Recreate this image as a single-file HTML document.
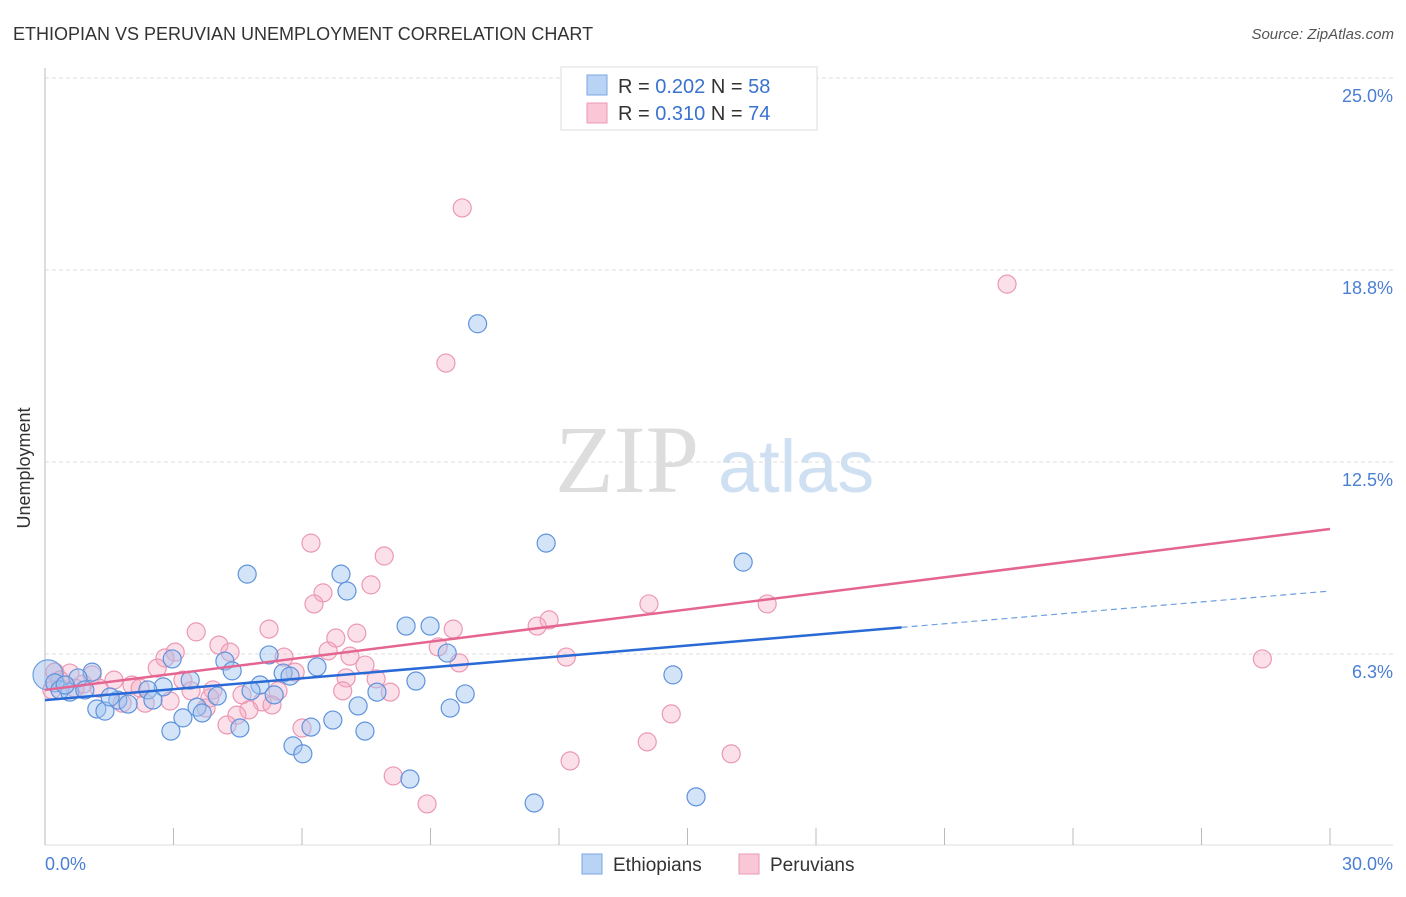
<!DOCTYPE html>
<html><head><meta charset="utf-8"><style>
body{margin:0;background:#fff;font-family:"Liberation Sans",sans-serif;}
</style></head><body>
<svg width="1406" height="892" xmlns="http://www.w3.org/2000/svg" style="font-family:'Liberation Sans',sans-serif">
<text x="13" y="40" font-size="18" fill="#333">ETHIOPIAN VS PERUVIAN UNEMPLOYMENT CORRELATION CHART</text>
<text x="1394" y="39" font-size="15" fill="#555" font-style="italic" text-anchor="end">Source: ZipAtlas.com</text>
<g>
<text x="555" y="492" font-size="96" font-family="'Liberation Serif',serif" fill="#ddd">ZIP</text>
<text x="718" y="492" font-size="74" fill="#cfe0f3">atlas</text>
</g>
<g id="grid"></g>
<line x1="45" y1="68" x2="45" y2="845" stroke="#bbb"/>
<line x1="45" y1="845" x2="1393" y2="845" stroke="#ddd"/>
<g id="xticks"></g>
<text x="18" y="456" font-size="18" fill="#333" transform="rotate(-90 30 456)" text-anchor="middle">Unemployment</text>
<text x="45" y="870" font-size="18" fill="#4a7fd4">0.0%</text>
<text x="1393" y="870" font-size="18" fill="#4a7fd4" text-anchor="end">30.0%</text>
<g id="pts"></g>
<g id="lines"></g>
<g>
<rect x="561" y="67" width="256" height="63" fill="#fff" stroke="#ddd"/>
<rect x="587" y="75" width="20" height="20" fill="#b9d3f5" stroke="#7aa6e4"/>
<rect x="587" y="103" width="20" height="20" fill="#f9c7d6" stroke="#ec9ab5"/>
<text x="618" y="93" font-size="20" fill="#333">R = <tspan fill="#3a72d0">0.202</tspan>   N = <tspan fill="#3a72d0">58</tspan></text>
<text x="618" y="120" font-size="20" fill="#333">R =  <tspan fill="#3a72d0">0.310</tspan>   N = <tspan fill="#3a72d0">74</tspan></text>
</g>
<g>
<rect x="582" y="854" width="20" height="20" fill="#b9d3f5" stroke="#7aa6e4"/>
<text x="613" y="871" font-size="19" fill="#333">Ethiopians</text>
<rect x="739" y="854" width="20" height="20" fill="#f9c7d6" stroke="#ec9ab5"/>
<text x="770" y="871" font-size="19" fill="#333">Peruvians</text>
</g>
</svg>
<script>
const yTicks=[6.25,12.5,18.75,25];
const yTickLabels=["6.3%","12.5%","18.8%","25.0%"];
const xTicks=[0,3,6,9,12,15,18,21,24,27,30];
const ethX=[10.1,11.7,16.3,4.72,6.91,7.05,8.43,8.99,9.39,2.97,4.20,5.23,6.35,1.10,4.37,5.56,5.72,14.66,0.77,3.39,5.02,8.66,2.76,0.23,0.35,0.58,0.93,2.40,4.02,4.81,5.35,7.75,9.81,1.70,1.94,2.52,1.21,1.40,3.55,7.31,9.46,3.67,3.22,6.72,6.21,4.55,2.94,7.47,5.79,6.02,8.52,11.42,15.20,0.47,1.52];
const ethY=[17.0,9.86,9.24,8.85,8.85,8.30,7.16,7.16,6.28,6.09,6.02,6.22,5.83,5.66,5.70,5.63,5.53,5.57,5.47,5.40,5.24,5.37,5.18,5.31,5.08,5.01,5.08,5.08,4.88,5.05,4.92,5.01,4.95,4.75,4.62,4.75,4.46,4.39,4.52,4.56,4.49,4.33,4.17,4.10,3.87,3.84,3.74,3.74,3.26,3.00,2.18,1.40,1.60,5.24,4.85];
const perX=[9.74,22.46,9.36,6.21,7.92,7.61,6.49,6.28,14.1,16.86,11.77,11.49,9.53,5.23,3.53,7.28,6.79,4.06,3.04,4.32,6.61,7.12,9.18,2.80,5.58,12.17,28.42,9.67,2.62,7.47,5.84,1.10,1.61,7.03,7.73,0.58,0.23,0.89,2.03,3.22,2.22,1.26,3.92,3.41,0.16,5.44,6.95,8.06,4.60,3.85,5.07,1.80,2.92,2.34,5.30,3.76,4.76,4.48,14.62,4.25,6.00,14.06,16.02,12.26,8.13,8.92,0.35,0.70];
const perY=[20.77,18.29,15.72,9.86,9.44,8.50,8.24,7.88,7.88,7.88,7.36,7.16,7.06,7.06,6.97,6.93,6.77,6.54,6.31,6.31,6.35,6.18,6.48,6.12,6.15,6.15,6.09,5.96,5.79,5.89,5.66,5.57,5.40,5.47,5.44,5.63,5.66,5.27,5.24,5.40,5.14,5.14,5.08,5.05,5.08,5.05,5.05,5.01,4.92,4.82,4.69,4.65,4.72,4.65,4.59,4.49,4.43,4.26,4.30,3.94,3.84,3.39,3.00,2.77,2.28,1.37,5.40,5.14];
const ethTrend=[4.75,8.30];
const ethSolidEnd=20;
const perTrend=[5.08,10.32];
const NS="http://www.w3.org/2000/svg";
const sx=v=>45+v/30*1285;
const sy=v=>846-v/6.25*192;
function mk(tag,attrs,parent){const e=document.createElementNS(NS,tag);for(const k in attrs)e.setAttribute(k,attrs[k]);parent.appendChild(e);return e;}
const grid=document.getElementById('grid');
yTicks.forEach((t,i)=>{
  const l=mk('line',{x1:45,x2:1393,y1:sy(t),y2:sy(t),stroke:'#ddd','stroke-dasharray':'4,3'},grid);
  
  
  const tx=mk('text',{x:1393,y:sy(t)+24,'font-size':18,fill:'#4a7fd4','text-anchor':'end'},grid);
  tx.textContent=yTickLabels[i];
  
  
});
const xt=document.getElementById('xticks');
xTicks.forEach(t=>{
  const l=mk('line',{x1:sx(t),x2:sx(t),y1:828,y2:845,stroke:'#bbb'},xt);
  
  
});
const pts=document.getElementById('pts');
perX.forEach((x,i)=>{
  const c=mk('circle',{cx:sx(x),cy:sy(perY[i]),r:9,fill:'rgba(245,165,192,0.35)',stroke:'#eb98b4','stroke-width':1.2},pts);
  
  
});
const big=mk('circle',{cx:sx(0.07),cy:sy(5.57),r:15,fill:'rgba(150,185,235,0.45)',stroke:'#6d9fe0','stroke-width':1.2},pts);


ethX.forEach((x,i)=>{
  const c=mk('circle',{cx:sx(x),cy:sy(ethY[i]),r:9,fill:'rgba(160,195,240,0.45)',stroke:'#5f93dc','stroke-width':1.2},pts);
  
  
});
const ln=document.getElementById('lines');
const ey=x=>ethTrend[0]+(ethTrend[1]-ethTrend[0])*x/30;
let a=mk('line',{x1:sx(0),y1:sy(ey(0)),x2:sx(ethSolidEnd),y2:sy(ey(ethSolidEnd)),stroke:'#2a6ad6','stroke-width':2.5},ln);


let b=mk('line',{x1:sx(ethSolidEnd),y1:sy(ey(ethSolidEnd)),x2:sx(30),y2:sy(ey(30)),stroke:'#6d9fe0','stroke-width':1.2,'stroke-dasharray':'6,4'},ln);


let p=mk('line',{x1:sx(0),y1:sy(perTrend[0]),x2:sx(30),y2:sy(perTrend[1]),stroke:'#e56592','stroke-width':2.5},ln);


</script>
</body></html>
